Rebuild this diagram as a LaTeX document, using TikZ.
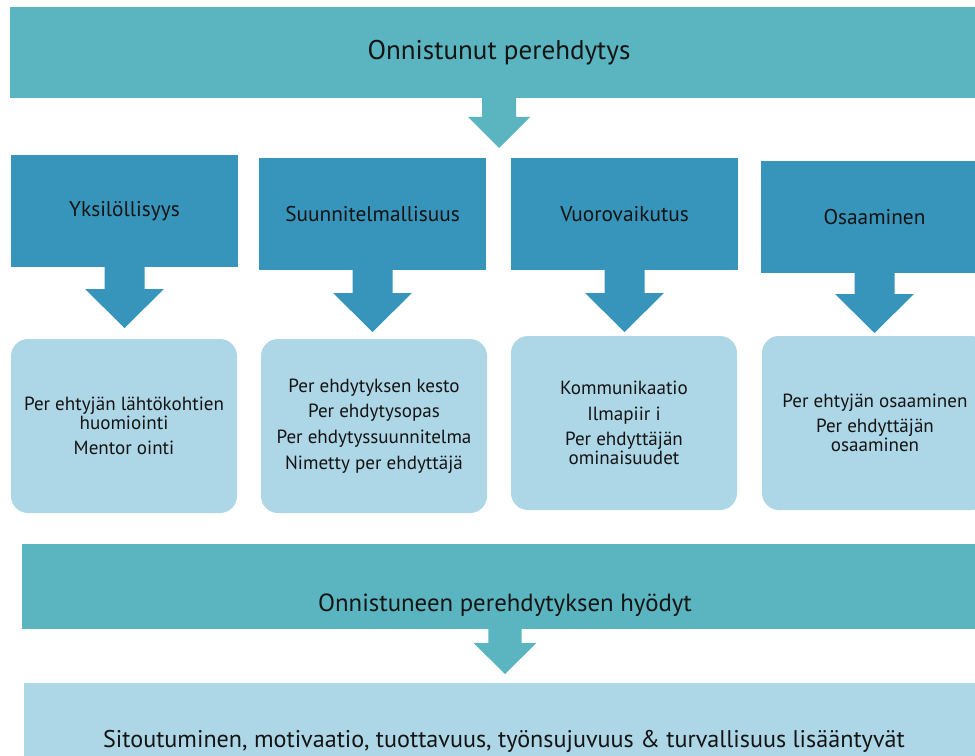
\documentclass[tikz,border=0pt]{standalone}
\usepackage{fontspec}
\setmainfont{PT Sans}
\usetikzlibrary{calc}

\definecolor{bannerteal}{HTML}{5AB5C0}
\definecolor{colblue}{HTML}{3794BA}
\definecolor{paleblue}{HTML}{ADD6E6}
\definecolor{inktext}{HTML}{141414}

% Block arrow from the bottom of #1 down to just above #2
% #3 colour, #4 stem half-width, #5 head half-width, #6 head length, #7 gap above target
\newcommand\blockarrow[7]{%
  \fill[#3] let \p1=(#1.south), \p2=(#2.north) in
    (\x1-#4,\y1+0.4pt) -- (\x1+#4,\y1+0.4pt) -- (\x1+#4,\y2+#7+#6) -- (\x1+#5,\y2+#7+#6)
    -- (\x1,\y2+#7) -- (\x1-#5,\y2+#7+#6) -- (\x1-#4,\y2+#7+#6) -- cycle;}

\begin{document}
\begin{tikzpicture}[x=0.75pt,y=-0.75pt,
  box/.style={anchor=north west, inner sep=0pt, outer sep=0pt, text=inktext, align=center},
  banner/.style={box, fill=bannerteal, minimum height=68.25pt},
  colbox/.style={box, fill=colblue, minimum width=170.25pt, minimum height=84pt,
    font=\fontsize{16}{19}\selectfont},
  itembox/.style={box, fill=paleblue, rounded corners=12.75pt, minimum width=169.5pt,
    minimum height=130.5pt, font=\fontsize{14.3}{14.25}\selectfont}
]
\useasboundingbox (0,0) rectangle (975,756);
\clip (0,0) rectangle (975,756);

% headline banner
\node[banner, minimum width=733.5pt, font=\fontsize{20.3}{24}\selectfont] (top) at (10,7)
  {Onnistunut perehdytys};

% four theme boxes
\node[colbox] (b1) at (11,155) {Yksilöllisyys};
\node[colbox] (b2) at (259,158) {Suunnitelmallisuus};
\node[colbox] (b3) at (511,158) {Vuorovaikutus};
\node[colbox] (b4) at (761,161) {Osaaminen};

% contents of each theme
\node[itembox] (l1) at (11,339)
  {Per ehtyjän lähtökohtien\\huomiointi\\[5pt]Mentor ointi};
\node[itembox] (l2) at (261,339)
  {Per ehdytyksen kesto\\[5pt]Per ehdytysopas\\[5pt]Per ehdytyssuunnitelma\\[5pt]Nimetty per ehdyttäjä};
\node[itembox] (l3) at (511,336)
  {Kommunikaatio\\[5pt]Ilmapiir i\\[5pt]Per ehdyttäjän\\ominaisuudet};
\node[itembox] (l4) at (762,336)
  {Per ehtyjän osaaminen\\[5pt]Per ehdyttäjän\\osaaminen};

% benefits banner and result box
\node[banner, minimum width=724.5pt, minimum height=63.75pt,
  label={[yshift=-14pt, text=inktext, font=\fontsize{18.6}{22}\selectfont]center:Onnistuneen perehdytyksen hyödyt}]
  (ben) at (22,544) {};
\node[box, fill=paleblue, minimum width=720pt, minimum height=87pt,
  font=\fontsize{18.1}{21}\selectfont] (res) at (24,683)
  {Sitoutuminen, motivaatio, tuottavuus, työnsujuvuus \& turvallisuus lisääntyvät};

% arrows
\blockarrow{top}{b2}{bannerteal}{12.75pt}{23.25pt}{23.25pt}{7.5pt}
\blockarrow{b1}{l1}{colblue}{15pt}{29.6pt}{29.25pt}{8.25pt}
\blockarrow{b2}{l2}{colblue}{15pt}{29.6pt}{29.25pt}{5.25pt}
\blockarrow{b3}{l3}{colblue}{15pt}{29.6pt}{29.25pt}{3pt}
\blockarrow{b4}{l4}{colblue}{15pt}{29.6pt}{29.25pt}{2.25pt}
\blockarrow{ben}{res}{bannerteal}{12.4pt}{23.6pt}{23.25pt}{6.75pt}
\end{tikzpicture}
\end{document}
